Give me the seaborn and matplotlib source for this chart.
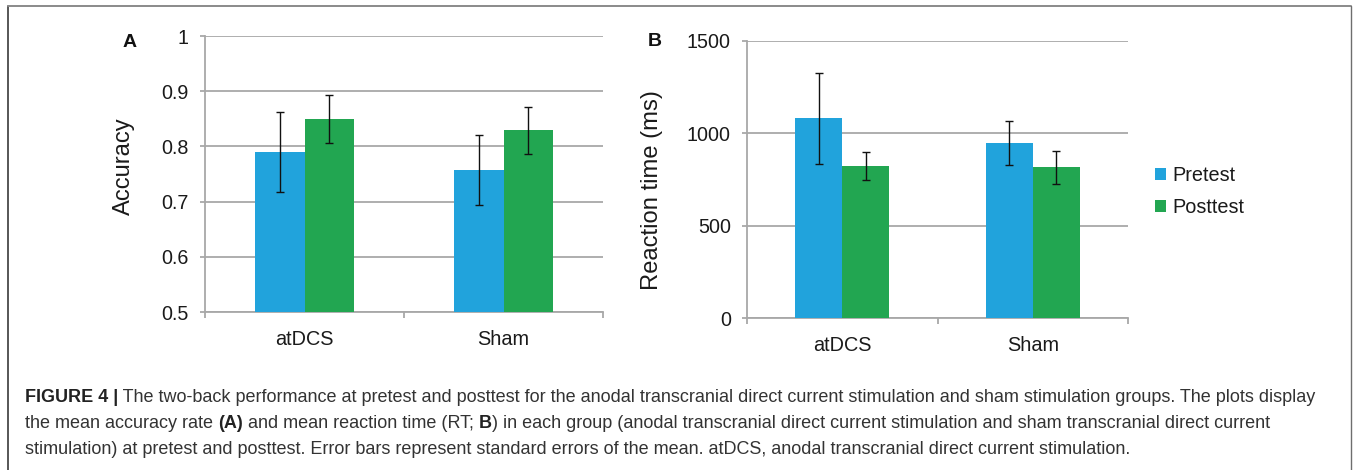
import matplotlib
matplotlib.use("Agg")
import matplotlib.pyplot as plt
from matplotlib.lines import Line2D
from matplotlib.patches import Patch
import seaborn as sns
import pandas as pd

# ---- data ----
groups = ["atDCS", "Sham"]
times = ["Pretest", "Posttest"]
acc_pre = [0.790, 0.757]
acc_post = [0.850, 0.829]
acc_pre_se = [0.072, 0.063]
acc_post_se = [0.043, 0.043]
rt_pre = [1081, 946]
rt_post = [823, 816]
rt_pre_se = [248, 120]
rt_post_se = [78, 90]
acc_ticks = [0.5, 0.6, 0.7, 0.8, 0.9, 1.0]
acc_ticklabels = ["0.5", "0.6", "0.7", "0.8", "0.9", "1"]
rt_ticks = [0, 500, 1000, 1500]

BLUE = "#21A3DC"
GREEN = "#22A651"
GRID = "#A8A8A8"
W, H = 1356, 470
TXT = "#1a1a1a"

sns.set_theme(style="white")
plt.rcParams["font.family"] = ["Liberation Sans", "DejaVu Sans"]


def long_df(pre, post):
    rows = []
    for t, vals in zip(times, [pre, post]):
        for g, v in zip(groups, vals):
            rows.append({"group": g, "time": t, "value": v})
    return pd.DataFrame(rows)


fig = plt.figure(figsize=(W / 100, H / 100), dpi=100)
fig.patch.set_facecolor("white")


def px_axes(x0, x1, ytop, ybot):
    return fig.add_axes([x0 / W, 1 - ybot / H, (x1 - x0) / W, (ybot - ytop) / H])


axA = px_axes(205, 603, 36, 312)
axB = px_axes(747, 1128, 41, 318)


def draw(ax, pre, post, pre_se, post_se, ylim, ticks, ticklabels):
    df = long_df(pre, post)
    sns.barplot(data=df, x="group", y="value", hue="time", order=groups,
                hue_order=times, palette=[BLUE, GREEN], width=0.495,
                errorbar=None, saturation=1, ax=ax, legend=False,
                linewidth=0, zorder=3)
    for cont, se in zip(ax.containers, [pre_se, post_se]):
        for bar, e in zip(cont, se):
            xc = bar.get_x() + bar.get_width() / 2
            ax.errorbar(xc, bar.get_height(), yerr=e, fmt="none",
                        ecolor="#111111", elinewidth=1.0, capsize=3,
                        capthick=1.0, zorder=4)
    ax.set_xlim(-0.5, 1.5)
    ax.set_ylim(*ylim)
    ax.set_yticks(ticks)
    ax.set_yticklabels(ticklabels)
    ax.set_xlabel("")
    ax.set_ylabel("")
    ax.grid(axis="y", color=GRID, linewidth=1.3, zorder=0)
    ax.set_axisbelow(True)
    for s in ["top", "right"]:
        ax.spines[s].set_visible(False)
    for s in ["left", "bottom"]:
        ax.spines[s].set_color(GRID)
        ax.spines[s].set_linewidth(1.3)
    ax.tick_params(axis="y", which="major", left=True, length=3.6, width=1.3,
                   color=GRID, labelsize=14.2, labelcolor=TXT, pad=8)
    ax.tick_params(axis="x", which="major", bottom=False, labelsize=14.3,
                   labelcolor=TXT, pad=7)
    ax.set_xticks([-0.5, 0.5, 1.5], minor=True)
    ax.tick_params(axis="x", which="minor", bottom=True, length=4, width=1.3,
                   color=GRID)


draw(axA, acc_pre, acc_post, acc_pre_se, acc_post_se, (0.5, 1.0),
     acc_ticks, acc_ticklabels)
draw(axB, rt_pre, rt_post, rt_pre_se, rt_post_se, (0, 1500),
     rt_ticks, [str(t) for t in rt_ticks])

axA.set_ylabel("Accuracy", fontsize=17.1, color=TXT)
axA.yaxis.set_label_coords(-0.176, 0.53)
axB.set_ylabel("Reaction time (ms)", fontsize=17.1, color=TXT)
axB.yaxis.set_label_coords(-0.22, 0.462)

fig.text(130 / W, 1 - 42.5 / H, "A", fontsize=14, fontweight="bold",
         ha="center", va="center", color="#111111")
fig.text(654.5 / W, 1 - 41.5 / H, "B", fontsize=14, fontweight="bold",
         ha="center", va="center", color="#111111")

handles = [Patch(facecolor=BLUE, edgecolor="none", label="Pretest"),
           Patch(facecolor=GREEN, edgecolor="none", label="Posttest")]
fig.legend(handles=handles, loc="center left",
           bbox_to_anchor=(1155 / W, 1 - 191.5 / H), frameon=False,
           fontsize=14.3, handlelength=0.55, handleheight=0.55,
           handletextpad=0.3, labelspacing=0.68, borderpad=0,
           borderaxespad=0, labelcolor=TXT)

# ---- frame ----
fig.add_artist(Line2D([8 / W, 8 / W], [0, 1 - 6 / H], transform=fig.transFigure,
                      color="#3a3a3a", linewidth=1.2))
fig.add_artist(Line2D([8 / W, 1351 / W], [1 - 6 / H, 1 - 6 / H],
                      transform=fig.transFigure, color="#8a8a8a", linewidth=1.4))
fig.add_artist(Line2D([1351 / W, 1351 / W], [0, 1 - 6 / H],
                      transform=fig.transFigure, color="#6e6e6e", linewidth=1.0))

# ---- caption ----
cap_lines = [
    [("FIGURE 4 |", True),
     (" The two-back performance at pretest and posttest for the anodal transcranial direct current stimulation and sham stimulation groups. The plots display", False)],
    [("the mean accuracy rate ", False), ("(A)", True),
     (" and mean reaction time (RT; ", False), ("B", True),
     (") in each group (anodal transcranial direct current stimulation and sham transcranial direct current", False)],
    [("stimulation) at pretest and posttest. Error bars represent standard errors of the mean. atDCS, anodal transcranial direct current stimulation.", False)],
]
cap_y = [397, 424, 450]
fig.canvas.draw()
renderer = fig.canvas.get_renderer()
for segs, yp in zip(cap_lines, cap_y):
    x = 25
    for txt, bold in segs:
        t = fig.text(x / W, 1 - yp / H, txt, fontsize=13.0,
                     fontweight="bold" if bold else "normal",
                     color="#222222" if bold else "#333333",
                     ha="left", va="center")
        bb = t.get_window_extent(renderer=renderer)
        x += bb.width

fig.savefig("out.png", dpi=100, facecolor="white")
